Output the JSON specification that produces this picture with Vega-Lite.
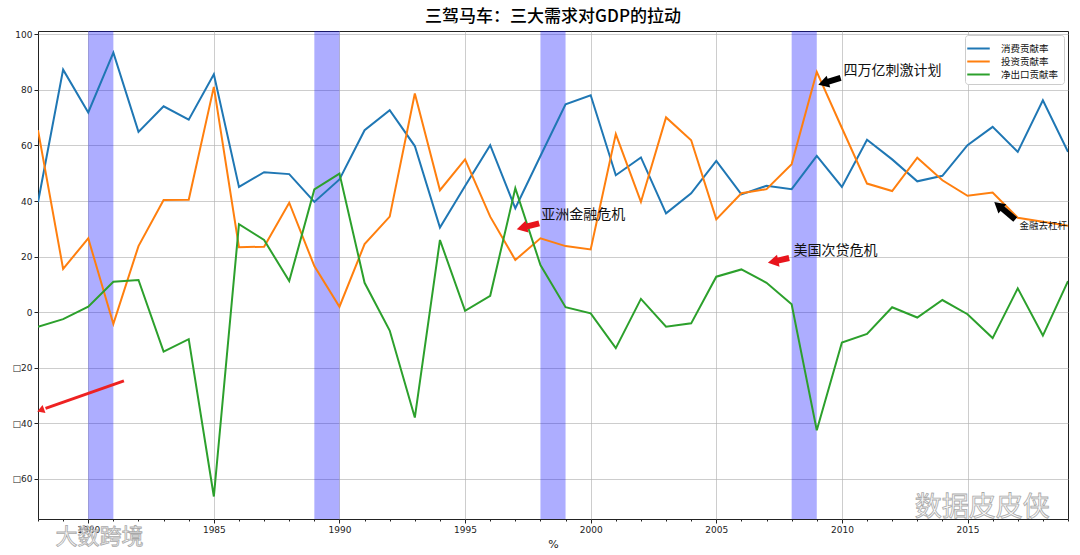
{
  "$schema": "https://vega.github.io/schema/vega-lite/v6.json",
  "width": 1030,
  "height": 488,
  "autosize": {"type": "none"},
  "padding": {"left": 38, "top": 31, "right": 12, "bottom": 36},
  "title": {"text": "三驾马车：三大需求对GDP的拉动", "font": "Noto Sans CJK SC", "fontSize": 17, "fontWeight": 500, "color": "#000", "anchor": "middle", "offset": 4},
  "config": {
    "view": {"stroke": "#222", "strokeWidth": 1},
    "axis": {"labelFont": "DejaVu Sans", "labelFontSize": 9, "labelColor": "#222", "tickColor": "#222", "domain": false, "gridColor": "#b0b0b0", "gridWidth": 0.8, "titleFont": "DejaVu Sans", "titleFontWeight": "normal", "titleColor": "#222", "labelOverlap": false}
  },
  "datasets": {
    "series": [
      {"year":1978,"series":"消费贡献率","value":39.6},{"year":1979,"series":"消费贡献率","value":87.3},{"year":1980,"series":"消费贡献率","value":71.9},{"year":1981,"series":"消费贡献率","value":93.4},{"year":1982,"series":"消费贡献率","value":64.9},{"year":1983,"series":"消费贡献率","value":74.1},{"year":1984,"series":"消费贡献率","value":69.3},{"year":1985,"series":"消费贡献率","value":85.6},{"year":1986,"series":"消费贡献率","value":45.1},{"year":1987,"series":"消费贡献率","value":50.4},{"year":1988,"series":"消费贡献率","value":49.7},{"year":1989,"series":"消费贡献率","value":39.7},{"year":1990,"series":"消费贡献率","value":47.8},{"year":1991,"series":"消费贡献率","value":65.5},{"year":1992,"series":"消费贡献率","value":72.7},{"year":1993,"series":"消费贡献率","value":59.8},{"year":1994,"series":"消费贡献率","value":30.5},{"year":1995,"series":"消费贡献率","value":45.4},{"year":1996,"series":"消费贡献率","value":60.1},{"year":1997,"series":"消费贡献率","value":37.4},{"year":1998,"series":"消费贡献率","value":56.2},{"year":1999,"series":"消费贡献率","value":74.8},{"year":2000,"series":"消费贡献率","value":78.1},{"year":2001,"series":"消费贡献率","value":49.3},{"year":2002,"series":"消费贡献率","value":55.7},{"year":2003,"series":"消费贡献率","value":35.6},{"year":2004,"series":"消费贡献率","value":42.8},{"year":2005,"series":"消费贡献率","value":54.5},{"year":2006,"series":"消费贡献率","value":42.4},{"year":2007,"series":"消费贡献率","value":45.5},{"year":2008,"series":"消费贡献率","value":44.3},{"year":2009,"series":"消费贡献率","value":56.3},{"year":2010,"series":"消费贡献率","value":45.1},{"year":2011,"series":"消费贡献率","value":62.1},{"year":2012,"series":"消费贡献率","value":55.0},{"year":2013,"series":"消费贡献率","value":47.1},{"year":2014,"series":"消费贡献率","value":49.1},{"year":2015,"series":"消费贡献率","value":60.1},{"year":2016,"series":"消费贡献率","value":66.7},{"year":2017,"series":"消费贡献率","value":57.7},{"year":2018,"series":"消费贡献率","value":76.3},{"year":2019,"series":"消费贡献率","value":57.7},
      {"year":1978,"series":"投资贡献率","value":65.5},{"year":1979,"series":"投资贡献率","value":15.6},{"year":1980,"series":"投资贡献率","value":26.6},{"year":1981,"series":"投资贡献率","value":-4.2},{"year":1982,"series":"投资贡献率","value":23.8},{"year":1983,"series":"投资贡献率","value":40.4},{"year":1984,"series":"投资贡献率","value":40.5},{"year":1985,"series":"投资贡献率","value":81.1},{"year":1986,"series":"投资贡献率","value":23.4},{"year":1987,"series":"投资贡献率","value":23.6},{"year":1988,"series":"投资贡献率","value":39.4},{"year":1989,"series":"投资贡献率","value":16.6},{"year":1990,"series":"投资贡献率","value":2.0},{"year":1991,"series":"投资贡献率","value":24.5},{"year":1992,"series":"投资贡献率","value":34.4},{"year":1993,"series":"投资贡献率","value":78.7},{"year":1994,"series":"投资贡献率","value":43.9},{"year":1995,"series":"投资贡献率","value":55.0},{"year":1996,"series":"投资贡献率","value":34.4},{"year":1997,"series":"投资贡献率","value":18.8},{"year":1998,"series":"投资贡献率","value":26.6},{"year":1999,"series":"投资贡献率","value":23.8},{"year":2000,"series":"投资贡献率","value":22.6},{"year":2001,"series":"投资贡献率","value":64.1},{"year":2002,"series":"投资贡献率","value":39.7},{"year":2003,"series":"投资贡献率","value":70.1},{"year":2004,"series":"投资贡献率","value":61.9},{"year":2005,"series":"投资贡献率","value":33.4},{"year":2006,"series":"投资贡献率","value":42.8},{"year":2007,"series":"投资贡献率","value":44.3},{"year":2008,"series":"投资贡献率","value":53.3},{"year":2009,"series":"投资贡献率","value":86.5},{"year":2010,"series":"投资贡献率","value":66.3},{"year":2011,"series":"投资贡献率","value":46.3},{"year":2012,"series":"投资贡献率","value":43.6},{"year":2013,"series":"投资贡献率","value":55.6},{"year":2014,"series":"投资贡献率","value":47.5},{"year":2015,"series":"投资贡献率","value":41.9},{"year":2016,"series":"投资贡献率","value":43.1},{"year":2017,"series":"投资贡献率","value":34.0},{"year":2018,"series":"投资贡献率","value":32.6},{"year":2019,"series":"投资贡献率","value":31.1},
      {"year":1978,"series":"净出口贡献率","value":-5.2},{"year":1979,"series":"净出口贡献率","value":-2.5},{"year":1980,"series":"净出口贡献率","value":2.0},{"year":1981,"series":"净出口贡献率","value":11.0},{"year":1982,"series":"净出口贡献率","value":11.6},{"year":1983,"series":"净出口贡献率","value":-14.2},{"year":1984,"series":"净出口贡献率","value":-9.7},{"year":1985,"series":"净出口贡献率","value":-66.3},{"year":1986,"series":"净出口贡献率","value":31.7},{"year":1987,"series":"净出口贡献率","value":26.0},{"year":1988,"series":"净出口贡献率","value":11.2},{"year":1989,"series":"净出口贡献率","value":44.2},{"year":1990,"series":"净出口贡献率","value":49.9},{"year":1991,"series":"净出口贡献率","value":10.6},{"year":1992,"series":"净出口贡献率","value":-6.6},{"year":1993,"series":"净出口贡献率","value":-37.9},{"year":1994,"series":"净出口贡献率","value":26.0},{"year":1995,"series":"净出口贡献率","value":0.5},{"year":1996,"series":"净出口贡献率","value":5.9},{"year":1997,"series":"净出口贡献率","value":44.6},{"year":1998,"series":"净出口贡献率","value":17.0},{"year":1999,"series":"净出口贡献率","value":1.8},{"year":2000,"series":"净出口贡献率","value":-0.4},{"year":2001,"series":"净出口贡献率","value":-12.9},{"year":2002,"series":"净出口贡献率","value":4.8},{"year":2003,"series":"净出口贡献率","value":-5.2},{"year":2004,"series":"净出口贡献率","value":-4.0},{"year":2005,"series":"净出口贡献率","value":12.8},{"year":2006,"series":"净出口贡献率","value":15.4},{"year":2007,"series":"净出口贡献率","value":10.6},{"year":2008,"series":"净出口贡献率","value":2.9},{"year":2009,"series":"净出口贡献率","value":-42.5},{"year":2010,"series":"净出口贡献率","value":-10.9},{"year":2011,"series":"净出口贡献率","value":-7.8},{"year":2012,"series":"净出口贡献率","value":1.8},{"year":2013,"series":"净出口贡献率","value":-1.9},{"year":2014,"series":"净出口贡献率","value":4.4},{"year":2015,"series":"净出口贡献率","value":-0.7},{"year":2016,"series":"净出口贡献率","value":-9.3},{"year":2017,"series":"净出口贡献率","value":8.6},{"year":2018,"series":"净出口贡献率","value":-8.4},{"year":2019,"series":"净出口贡献率","value":11.2}
    ],
    "bands": [
      {"start": 1980, "end": 1981},
      {"start": 1989, "end": 1990},
      {"start": 1998, "end": 1999},
      {"start": 2008, "end": 2009}
    ],
    "arrows": [
      {"name": "asia", "x": 1997.95, "y": 32.0, "x2": 1997.4, "y2": 30.7, "hx": 1997.33, "hy": 30.5, "angle": 256, "color": "#e8141c", "w": 6, "size": 150},
      {"name": "us", "x": 2007.9, "y": 19.5, "x2": 2007.4, "y2": 18.5, "hx": 2007.33, "hy": 18.3, "angle": 258, "color": "#e8141c", "w": 6, "size": 150},
      {"name": "4t", "x": 2009.95, "y": 84.3, "x2": 2009.4, "y2": 82.8, "hx": 2009.33, "hy": 82.6, "angle": 253, "color": "#000000", "w": 6, "size": 150},
      {"name": "delev", "x": 2016.9, "y": 33.4, "x2": 2016.35, "y2": 37.6, "hx": 2016.28, "hy": 38.0, "angle": 310, "color": "#000000", "w": 6, "size": 150},
      {"name": "red", "x": 1981.42, "y": -24.7, "x2": 1978.3, "y2": -34.6, "hx": 1978.15, "hy": -35.1, "angle": 250, "color": "#ee2222", "w": 3, "size": 70}
    ],
    "labels": [
      {"text": "亚洲金融危机", "x": 1998.03, "y": 35.0, "size": 14, "color": "#111"},
      {"text": "美国次贷危机", "x": 2008.07, "y": 22.0, "size": 14, "color": "#111"},
      {"text": "四万亿刺激计划", "x": 2010.06, "y": 86.7, "size": 14, "color": "#111"},
      {"text": "金融去杠杆", "x": 2017.07, "y": 31.2, "size": 9.5, "color": "#111"}
    ],
    "marks": [
      {"text": "数据皮皮侠", "x": 2012.9, "y": -70.3, "size": 27},
      {"text": "大数跨境", "x": 1978.7, "y": -80.8, "size": 22}
    ]
  },
  "layer": [
    {
      "data": {"name": "bands"},
      "mark": {"type": "rect", "color": "#0000ff", "opacity": 0.32},
      "encoding": {
        "x": {"field": "start", "type": "quantitative", "scale": {"domain": [1978, 2019], "nice": false, "zero": false},
          "axis": {"title": "%", "titleFontSize": 11, "titlePadding": 4, "labelOverlap": false, "labelBound": false, "labelFlush": false, "tickCount": 41,
            "labelExpr": "datum.value % 5 === 0 ? '' + datum.value : ''",
            "tickSize": {"condition": {"test": "datum.value % 5 === 0", "value": 4}, "value": 2},
            "gridOpacity": {"condition": {"test": "datum.value % 5 === 0", "value": 0.8}, "value": 0},
            "labelPadding": 2}},
        "x2": {"field": "end"}
      }
    },
    {
      "data": {"name": "series"},
      "mark": {"type": "line", "strokeWidth": 2, "clip": true},
      "encoding": {
        "x": {"field": "year", "type": "quantitative"},
        "y": {"field": "value", "type": "quantitative", "scale": {"domain": [-74.4, 101.2], "nice": false, "zero": false},
          "axis": {"title": null, "tickCount": 9, "labelExpr": "datum.value < 0 ? '□' + abs(datum.value) : '' + datum.value", "tickSize": 4, "labelPadding": 2, "gridOpacity": 0.8}},
        "color": {"field": "series", "type": "nominal",
          "scale": {"domain": ["消费贡献率", "投资贡献率", "净出口贡献率"], "range": ["#1f77b4", "#ff7f0e", "#2ca02c"]},
          "sort": ["消费贡献率", "投资贡献率", "净出口贡献率"],
          "legend": {"title": null, "orient": "top-right", "offset": 4, "padding": 5, "fillColor": "#ffffff", "strokeColor": "#cccccc", "cornerRadius": 3,
            "symbolType": "M-1.5,0L1.5,0", "symbolSize": 225, "symbolStrokeWidth": 2, "labelFont": "Noto Sans CJK SC", "labelFontSize": 9.5, "labelColor": "#111", "rowPadding": 0, "labelOffset": 14}}
      }
    },
    {
      "mark": {"type": "rule", "color": "#ee1111", "strokeWidth": 2, "strokeDash": [7, 4]},
      "encoding": {"y": {"datum": 50}}
    },
    {
      "data": {"name": "arrows"},
      "mark": {"type": "rule", "clip": false},
      "encoding": {
        "x": {"field": "x", "type": "quantitative"},
        "y": {"field": "y", "type": "quantitative"},
        "x2": {"field": "x2"},
        "y2": {"field": "y2"},
        "color": {"field": "color", "type": "nominal", "scale": null},
        "strokeWidth": {"field": "w", "type": "quantitative", "scale": null}
      }
    },
    {
      "data": {"name": "arrows"},
      "mark": {"type": "point", "shape": "triangle", "filled": true, "opacity": 1, "clip": false},
      "encoding": {
        "x": {"field": "hx", "type": "quantitative"},
        "y": {"field": "hy", "type": "quantitative"},
        "angle": {"field": "angle", "type": "quantitative", "scale": null},
        "size": {"field": "size", "type": "quantitative", "scale": null},
        "color": {"field": "color", "type": "nominal", "scale": null}
      }
    },
    {
      "data": {"name": "labels"},
      "mark": {"type": "text", "align": "left", "baseline": "middle", "font": "Noto Sans CJK SC"},
      "encoding": {
        "x": {"field": "x", "type": "quantitative"},
        "y": {"field": "y", "type": "quantitative"},
        "text": {"field": "text"},
        "size": {"field": "size", "type": "quantitative", "scale": null},
        "color": {"field": "color", "type": "nominal", "scale": null}
      }
    },
    {
      "data": {"name": "marks"},
      "mark": {"type": "text", "align": "left", "baseline": "middle", "font": "Noto Sans CJK SC", "fill": "#fafafa", "stroke": "#9a9a9a", "strokeWidth": 0.8, "opacity": 0.85},
      "encoding": {
        "x": {"field": "x", "type": "quantitative"},
        "y": {"field": "y", "type": "quantitative"},
        "text": {"field": "text"},
        "size": {"field": "size", "type": "quantitative", "scale": null}
      }
    }
  ]
}
